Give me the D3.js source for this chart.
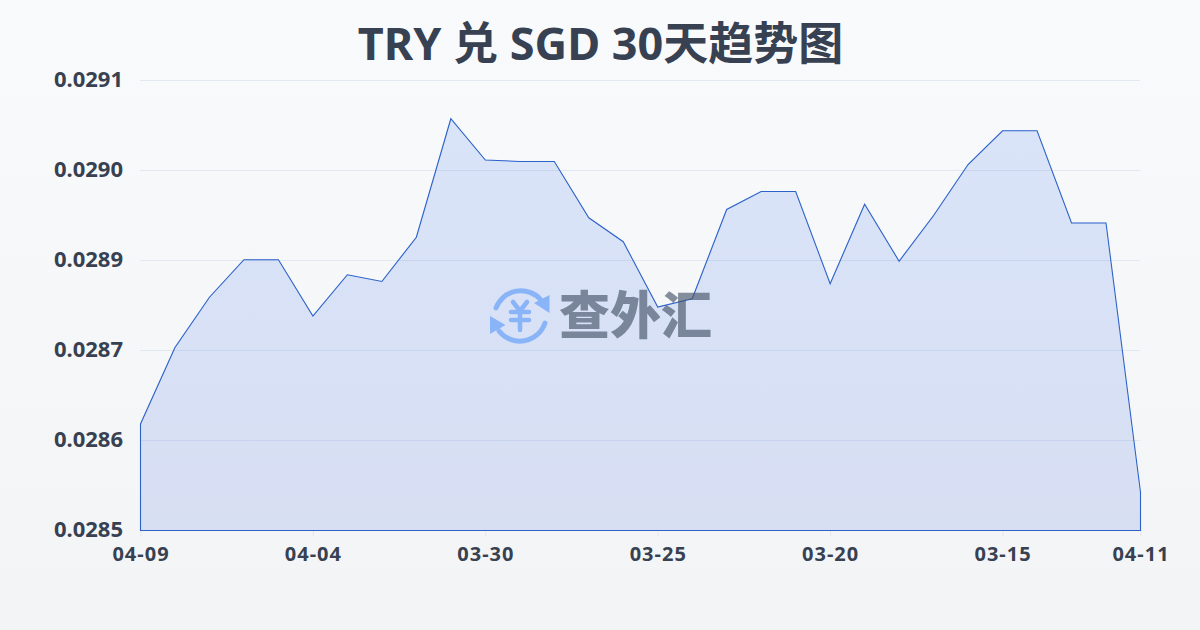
<!DOCTYPE html>
<html><head><meta charset="utf-8">
<script src="https://cdn.jsdelivr.net/npm/d3@7"></script>
<style>html,body{margin:0;padding:0;width:1200px;height:630px;overflow:hidden}svg{display:block}</style>
</head><body><div id="c"></div>
<script>
const title = "TRY 兑 SGD 30天趋势图";
const dates = ["04-09","04-08","04-07","04-06","04-05","04-04","04-03","04-02","04-01","03-31","03-30","03-29","03-28","03-27","03-26","03-25","03-24","03-23","03-22","03-21","03-20","03-19","03-18","03-17","03-16","03-15","03-14","03-13","03-12","04-11"];
const rates = [0.028642,0.028744,0.028811,0.028861,0.028861,0.028786,0.028841,0.028832,0.028891,0.029049,0.028994,0.028992,0.028992,0.028917,0.028885,0.028798,0.028809,0.028928,0.028952,0.028952,0.028829,0.028935,0.028859,0.028920,0.028988,0.029033,0.029033,0.028910,0.028910,0.028551];
const xTickLabels = ["04-09","04-04","03-30","03-25","03-20","03-15","04-11"];
const xTickIndex = [0,5,10,15,20,25,29];
const yTicks = [0.0285,0.02862,0.02874,0.02886,0.02898,0.0291];
const watermark = "查外汇";

const W=1200,H=630;
const font='"Noto Sans","Noto Sans CJK SC",sans-serif';
const svg=d3.select("#c").append("svg").attr("width",W).attr("height",H);
const defs=svg.append("defs");
const bg=defs.append("linearGradient").attr("id","bg").attr("x1",0).attr("y1",0).attr("x2",0).attr("y2",1);
bg.append("stop").attr("offset","0%").attr("stop-color","#f8fafc");
bg.append("stop").attr("offset","100%").attr("stop-color","#f3f4f6");
const ag=defs.append("linearGradient").attr("id","ag").attr("x1",0).attr("y1",0).attr("x2",0).attr("y2",1);
ag.append("stop").attr("offset","0%").attr("stop-color","#2563eb").attr("stop-opacity",0.14);
ag.append("stop").attr("offset","100%").attr("stop-color","#1d4ed8").attr("stop-opacity",0.135);
svg.append("rect").attr("width",W).attr("height",H).attr("fill","url(#bg)");

const x=d3.scaleLinear().domain([0,dates.length-1]).range([140,1140]);
const y=d3.scaleLinear().domain([0.0285,0.0291]).range([530,80]);

// grid
svg.append("g").selectAll("line").data(yTicks.slice(1)).join("line")
 .attr("x1",140).attr("x2",1140).attr("y1",d=>Math.round(y(d))+.5).attr("y2",d=>Math.round(y(d))+.5)
 .attr("stroke","#e2e8f0").attr("stroke-width",1);

// area fill
const area=d3.area().x((d,i)=>x(i)).y0(y(0.0285)).y1(d=>y(d));
svg.append("path").datum(rates).attr("d",area).attr("fill","url(#ag)").attr("stroke","none");

// axes
const yAxis=d3.axisLeft(y).tickValues(yTicks).tickSize(0).tickPadding(17).tickFormat(d3.format(".4f"));
const gy=svg.append("g").attr("transform","translate(140,0)").call(yAxis);
gy.select(".domain").remove();
gy.selectAll("text").attr("font-family",font).attr("font-weight",700).attr("font-size",22).attr("fill","#374151").attr("dy","0").attr("y",6);

const xAxis=d3.axisBottom(x).tickValues(xTickIndex).tickSize(6).tickPadding(11).tickFormat((d,i)=>xTickLabels[i]);
const gx=svg.append("g").attr("transform","translate(0.5,530)").call(xAxis);
gx.select(".domain").remove();
gx.selectAll("line").attr("stroke","#e5e7eb");
gx.selectAll("text").attr("font-family",font).attr("font-weight",700).attr("font-size",20).attr("letter-spacing",1).attr("fill","#374151");

// area outline, closed along the baseline and both sides
svg.append("path").datum(rates).attr("d",area).attr("transform","translate(.5,.5)").attr("fill","none").attr("stroke","#2c62c9").attr("stroke-width",1.1).attr("stroke-linejoin","miter");

// title
svg.append("text").attr("x",600.5).attr("y",60).attr("text-anchor","middle").attr("font-family",font)
 .attr("font-weight",700).attr("font-size",45).attr("fill","#374151").text(title);

// watermark
const wm=svg.append("g");
const ic="#8ab4f8";
const arcs=wm.append("g").attr("fill","none").attr("stroke",ic).attr("stroke-width",5).attr("stroke-linecap","round");
arcs.append("path").attr("d","M496,308 A26.5,26.5 0 0 1 541,300");
arcs.append("path").attr("d","M545,323 A26.5,26.5 0 0 1 499,331");
wm.append("path").attr("fill",ic).attr("d","M549.5,295 L549.5,313 L534,303 Z");
wm.append("path").attr("fill",ic).attr("d","M490,316 L490,334 L505.5,325 Z");
const yen=wm.append("g").attr("fill","none").attr("stroke",ic).attr("stroke-width",4.5).attr("stroke-linecap","round");
yen.append("path").attr("d","M513,302 L520,311 L527,302");
yen.append("path").attr("d","M511,312 H529 M511,320 H529 M520,311 V330");
wm.append("text").attr("x",559).attr("y",334).attr("font-family",'"Noto Sans CJK SC"').attr("font-weight",900)
 .attr("font-size",51).attr("fill","#475569").attr("opacity",0.65).text(watermark);
</script></body></html>
